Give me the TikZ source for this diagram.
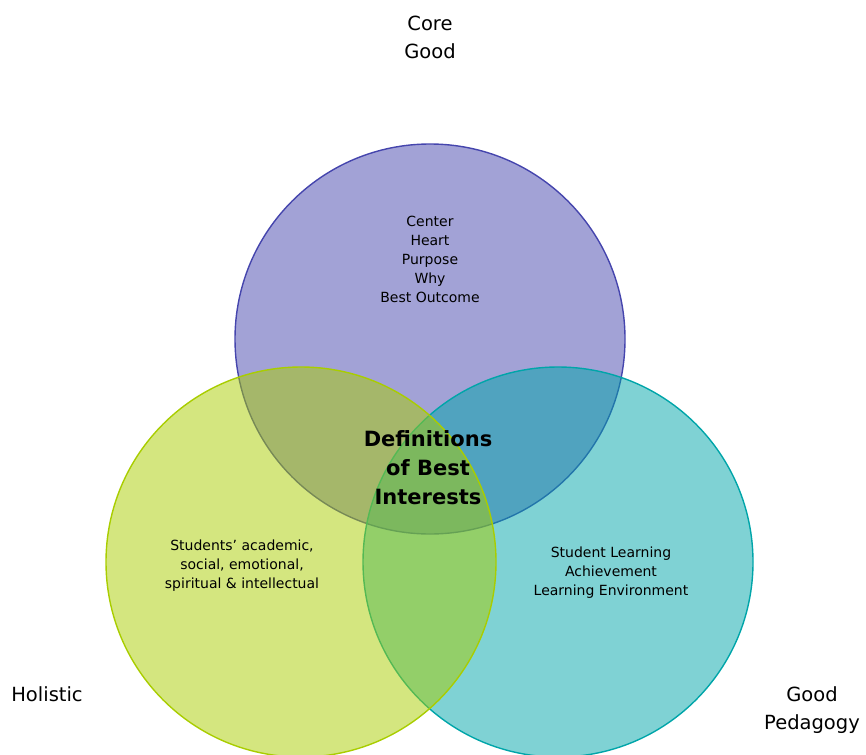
\documentclass[tikz,border=0pt]{standalone}
\usepackage{fontspec}
\setmainfont{DejaVu Sans}

\definecolor{corecol}{RGB}{69,69,173}
\definecolor{holcol}{RGB}{169,205,0}
\definecolor{pedcol}{RGB}{0,165,169}

\begin{document}
\begin{tikzpicture}[x=1pt,y=-1pt,
  every node/.style={align=center,inner sep=0pt}
]

\tikzstyle{venn}=[circle,minimum size=390pt,line width=1.4pt,fill opacity=0.5,draw opacity=1]
\tikzstyle{small}=[font=\fontsize{14}{19}\selectfont]
\tikzstyle{outer}=[font=\fontsize{19.5}{28}\selectfont]

\useasboundingbox (0,0) rectangle (866,754);
\clip (0,0) rectangle (866,754);

% circles: top, right, left
\node [venn,draw=corecol,fill=corecol] (core) at (430,339) {};
\node [venn,draw=pedcol,fill=pedcol] (ped) at (558,562) {};
\node [venn,draw=holcol,fill=holcol] (hol) at (301,562) {};

% texts in the circles
\node [small] (coretxt) at (430,259) {Center\\Heart\\Purpose\\Why\\Best Outcome};
\node [small] (holtxt) at (242,566) {Students’ academic,\\social, emotional,\\spiritual \& intellectual};
\node [small] (pedtxt) at (611,573) {Student Learning\\Achievement\\Learning Environment};
\node [font=\fontsize{21}{29}\selectfont\bfseries] (mid) at (428,468) {Definitions\\of Best\\Interests};

% labels outside
\node [outer] (corelbl) at (430,37) {Core\\Good};
\node [outer] (hollbl) at (47,694) {Holistic};
\node [outer] (pedlbl) at (812,710) {Good\\Pedagogy};
\end{tikzpicture}
\end{document}
